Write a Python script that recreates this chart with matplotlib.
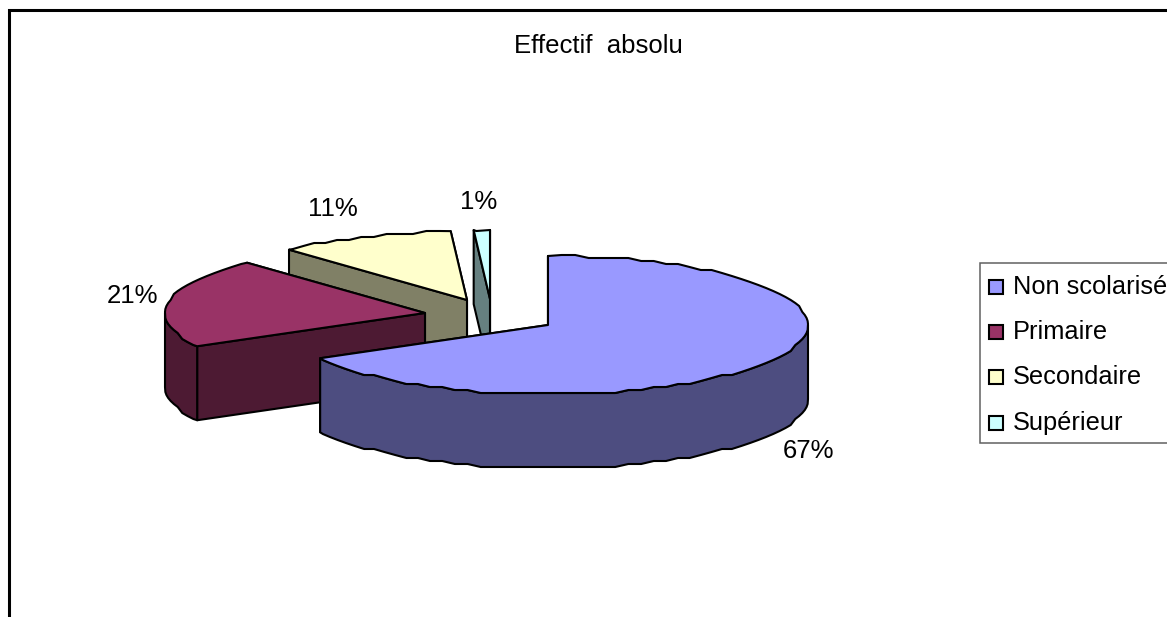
import numpy as np
import matplotlib
matplotlib.use('Agg')
import matplotlib.pyplot as plt
from matplotlib.patches import Polygon, Rectangle

plt.rcParams['font.family'] = ['Liberation Sans', 'DejaVu Sans']

categories = ['Non scolarisé', 'Primaire', 'Secondaire', 'Supérieur']
values = [67, 21, 11, 1]

top_colors = ['#9999FF', '#993366', '#FFFFCC', '#CCFFFF']
side_colors = ['#4D4D80', '#4D1A33', '#808066', '#668080']

# pie geometry, in pixels
rx, ry, depth = 260, 69, 74
centres = [(548, 325), (425, 313), (467, 300), (490, 299)]
label_pos = [(808, 451), (132, 296), (333, 209), (479, 202)]
legend_y = [287, 332, 377, 423]
edge_lw = 1.5
rim_step = 3  # the ellipse outline is snapped to a coarse pixel grid


def rim(cx, cy, a0, a1):
    # angles run clockwise from 12 o'clock, in degrees
    inner = np.arange(np.ceil(a0 / 3) * 3, a1, 3)
    inner = inner[inner > a0]
    a = np.radians(inner)
    x = cx + rx * np.sin(a)
    y = np.round((cy - ry * np.cos(a)) / rim_step) * rim_step
    ends = np.radians([a0, a1])
    x = np.concatenate([[cx + rx * np.sin(ends[0])], x, [cx + rx * np.sin(ends[1])]])
    y = np.concatenate([[cy - ry * np.cos(ends[0])], y, [cy - ry * np.cos(ends[1])]])
    return np.column_stack([x, y])


def add_poly(ax, pts, color):
    ax.add_patch(Polygon(pts, closed=True, facecolor=color, edgecolor='black',
                         linewidth=edge_lw, joinstyle='round'))


def draw_slice(ax, centre, a0, a1, top, side):
    cx, cy = centre
    drop = np.array([0, depth])
    apex = np.array([cx, cy])

    # the cut face nearest the viewer goes last
    cuts = sorted([a0, a1], key=lambda a: -np.cos(np.radians(a)))
    for a in cuts:
        p = rim(cx, cy, a, a)[0]
        add_poly(ax, [p, apex, apex + drop, p + drop], side)

    # outer wall only on the front half of the ellipse
    lo, hi = max(a0, 90), min(a1, 270)
    if hi > lo:
        arc = rim(cx, cy, lo, hi)
        add_poly(ax, np.vstack([arc, arc[::-1] + drop]), side)

    add_poly(ax, np.vstack([apex, rim(cx, cy, a0, a1)]), top)


fig = plt.figure(figsize=(11.67, 6.17), dpi=100)
ax = fig.add_axes([0, 0, 1, 1])
ax.set_xlim(0, 1167)
ax.set_ylim(617, 0)
ax.axis('off')

# chart frame, runs off the right and bottom edges
ax.plot([9, 9, 1167], [617, 10, 10], color='black', lw=2.2, solid_joinstyle='miter')

ax.text(598, 46, 'Effectif  absolu', fontsize=18.5, ha='center', va='center')

angles = np.concatenate([[0], np.cumsum(values) / np.sum(values) * 360])

# back slices first so the front ones overlap them
for i in reversed(range(len(values))):
    draw_slice(ax, centres[i], angles[i], angles[i + 1], top_colors[i], side_colors[i])

for (x, y), v in zip(label_pos, values):
    ax.text(x, y, f'{v}%', fontsize=18.5, ha='center', va='center')

# legend box is cut by the right edge
ax.add_patch(Rectangle((980, 263), 200, 180, facecolor='white', edgecolor='#606060', lw=1.1))
for name, color, y in zip(categories, top_colors, legend_y):
    ax.add_patch(Rectangle((989, y - 7), 14, 14, facecolor=color, edgecolor='black', lw=1.5))
    ax.text(1013, y, name, fontsize=18.3, ha='left', va='center')

fig.savefig('out.png', dpi=100)
